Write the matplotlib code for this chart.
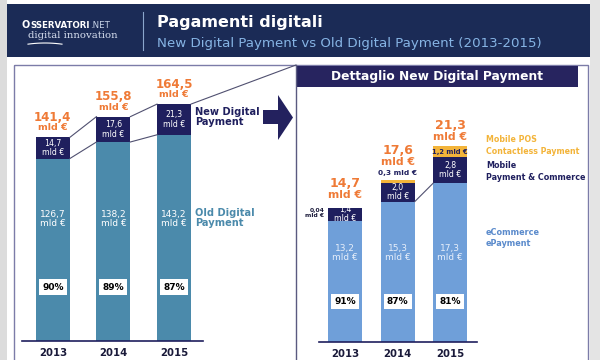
import matplotlib
matplotlib.use("Agg")
import numpy as np
import matplotlib.pyplot as plt
from matplotlib.patches import Rectangle, ConnectionPatch

# data
years = ["2013", "2014", "2015"]
old_digital = [126.7, 138.2, 143.2]
new_digital = [14.7, 17.6, 21.3]
totals = [141.4, 155.8, 164.5]
old_share = ["90%", "89%", "87%"]

ecommerce = [13.2, 15.3, 17.3]
mobile_pay = [1.4, 2.0, 2.8]
mobile_pos = [0.04, 0.3, 1.2]
new_totals = [14.7, 17.6, 21.3]
ecom_share = ["91%", "87%", "81%"]

NAVY = "#1f1f5e"
HEAD = "#1b2b56"
TEAL = "#4b8aab"
LBLUE = "#6f9fd9"
YELLOW = "#f3b43a"
ORANGE = "#ef7a36"
SUB = "#86b4e4"

plt.rcParams["font.family"] = "DejaVu Sans"

fig = plt.figure(figsize=(6, 3.6), dpi=100)
W, H = 600, 360


def fmt(v):
    return f"{v:.1f}".replace(".", ",")


# background axes in pixel coords for the frame
bg = fig.add_axes([0, 0, 1, 1])
bg.set_xlim(0, W)
bg.set_ylim(H, 0)
bg.axis("off")
bg.add_patch(Rectangle((0, 0), 7, H, color="#dcdcdc", lw=0))
bg.add_patch(Rectangle((590, 0), 10, H, color="#e4e4e4", lw=0))
bg.add_patch(Rectangle((7, 4), 583, 53, color=HEAD, lw=0))

# logo
bg.text(22, 25, "O", color="white", fontsize=7, fontweight="bold", va="center")
bg.text(30, 25, "SSERVATORI", color="white", fontsize=6.2, fontweight="bold",
        va="center")
bg.text(90, 25, ".NET", color="#c8d4e8", fontsize=6.2, va="center")
bg.text(28, 35, "digital innovation", color="#d8e0f0", fontsize=7.3,
        family="DejaVu Serif", va="center")
sx = np.linspace(28, 62, 12)
bg.plot(sx, 43 + 0.004 * (sx - 45) ** 2, color="white", lw=0.8)
bg.plot([143, 143], [12, 50], color="#8aa6cc", lw=0.8)
bg.text(157, 22, "Pagamenti digitali", color="white", fontsize=11.5,
        fontweight="bold", va="center")
bg.text(157, 43, "New Digital Payment vs Old Digital Payment (2013-2015)",
        color=SUB, fontsize=9.6, va="center")

# panels
bg.add_patch(Rectangle((14, 65), 574, 320, fill=False, ec="#7c7ca8", lw=1))
bg.plot([296, 296], [65, 360], color="#5a5a80", lw=1)
bg.add_patch(Rectangle((296, 66), 282, 21, color="#27245f", lw=0))
bg.text(437, 76.5, "Dettaglio New Digital Payment", color="white",
        fontsize=8.8, fontweight="bold", ha="center", va="center")

# arrow
bg.fill([263, 278, 278, 293, 278, 278, 263],
        [110, 110, 95, 117.5, 140, 124, 124], color="#23215e", lw=0)


def bar_axes(x0, x1, ybase, ytop):
    a = fig.add_axes([x0 / W, (H - ybase) / H, (x1 - x0) / W, (ybase - ytop) / H])
    a.patch.set_alpha(0)
    for s in ["top", "right", "left"]:
        a.spines[s].set_visible(False)
    a.spines["bottom"].set_color(NAVY)
    a.spines["bottom"].set_linewidth(1.2)
    a.set_yticks([])
    a.tick_params(axis="x", length=0, pad=5)
    return a


x = np.arange(3)

# left chart
ax1 = bar_axes(22, 203, 341, 341 - 200 * 1.44)
ax1.set_xlim(-0.51, 2.48)
ax1.set_ylim(0, 200)
w1 = 0.56
ax1.bar(x, old_digital, w1, color=TEAL)
ax1.bar(x, new_digital, w1, bottom=old_digital, color=NAVY)
ax1.set_xticks(x, years, fontsize=7.3, fontweight="bold", color="#1a1a3a")
top1 = [o + n for o, n in zip(old_digital, new_digital)]
for i in range(2):
    ax1.plot([i + w1 / 2, i + 1 - w1 / 2], [top1[i], top1[i + 1]], color="#505070", lw=0.8)
    ax1.plot([i + w1 / 2, i + 1 - w1 / 2], [old_digital[i], old_digital[i + 1]],
             color="#505070", lw=0.8)
for i in x:
    ax1.annotate(fmt(totals[i]), (i, top1[i]), xytext=(0, 20),
                 textcoords="offset pixels", ha="center", va="center",
                 color=ORANGE, fontsize=8.5, fontweight="bold")
    ax1.annotate("mld €", (i, top1[i]), xytext=(0, 9.5), textcoords="offset pixels",
                 ha="center", va="center", color=ORANGE, fontsize=6.8, fontweight="bold")
    ax1.text(i, old_digital[i] + new_digital[i] / 2, fmt(new_digital[i]) + "\nmld €",
             ha="center", va="center", color="white", fontsize=5.6, linespacing=1.1)
    ax1.text(i, 84.7, fmt(old_digital[i]) + "\nmld €",
             ha="center", va="center", color="white", fontsize=6.5, linespacing=1.1)
    ax1.text(i, 37.5, old_share[i], ha="center", va="center", color="black",
             fontsize=6.5, fontweight="bold",
             bbox=dict(boxstyle="square,pad=0.35", fc="white", ec="none"))

fig.add_artist(ConnectionPatch((2 + w1 / 2, top1[2]), (296, 65), "data", "data",
                               axesA=ax1, axesB=bg, color="#505070", lw=0.8))
fig.add_artist(ConnectionPatch((2 + w1 / 2, old_digital[2]), (297, 372), "data", "data",
                               axesA=ax1, axesB=bg, color="#303050", lw=0.8))
bg.text(195, 117, "New Digital\nPayment", color=NAVY, fontsize=7.1,
        fontweight="bold", va="center", linespacing=1.0)
bg.text(195, 218, "Old Digital\nPayment", color=TEAL, fontsize=7.1,
        fontweight="bold", va="center", linespacing=1.0)

# right chart
ax2 = bar_axes(319, 477, 342, 342 - 30 * 9.18)
ax2.set_xlim(-0.5, 2.51)
ax2.set_ylim(0, 30)
w2 = 0.65
ax2.bar(x, ecommerce, w2, color=LBLUE)
bot2 = np.array(ecommerce)
b_mob = ax2.bar(x, mobile_pay, w2, bottom=bot2, color=NAVY)
bot3 = bot2 + np.array(mobile_pay)
ax2.bar(x, mobile_pos, w2, bottom=bot3, color=YELLOW)
top2 = bot3 + np.array(mobile_pos)
ax2.set_xticks(x, years, fontsize=7.3, fontweight="bold", color="#1a1a3a")
ax2.plot([1 + w2 / 2, 2 - w2 / 2], [ecommerce[1], ecommerce[2]], color="#505070", lw=0.8)

tot_off = [24, 30, 21]
for i in x:
    ax2.annotate(fmt(new_totals[i]), (i, top2[i]),
                 xytext=(0, tot_off[i]), textcoords="offset pixels", ha="center",
                 va="center", color=ORANGE, fontsize=9, fontweight="bold")
    ax2.annotate("mld €", (i, top2[i]), xytext=(0, tot_off[i] - 11.5),
                 textcoords="offset pixels", ha="center", va="center",
                 color=ORANGE, fontsize=7.8, fontweight="bold")
    t = ax2.text(i, ecommerce[i] + mobile_pay[i] / 2, fmt(mobile_pay[i]) + "\nmld €",
                 ha="center", va="center", color="white", fontsize=5.6, linespacing=1.0)
    t.set_clip_path(b_mob[i])
    ax2.text(i, 9.7, fmt(ecommerce[i]) + "\nmld €",
             ha="center", va="center", color="#e6eefa", fontsize=6.5, linespacing=1.1)
    ax2.text(i, 4.4, ecom_share[i], ha="center", va="center", color="black",
             fontsize=6.5, fontweight="bold",
             bbox=dict(boxstyle="square,pad=0.35", fc="white", ec="none"))

ax2.annotate("0,04\nmld €", (0 - w2 / 2, top2[0]), xytext=(-4, -5),
             textcoords="offset pixels", ha="right", va="center", color="#1a1a3a",
             fontsize=4.3, fontweight="bold", linespacing=1.0)
ax2.annotate(fmt(mobile_pos[1]) + " mld €", (1, top2[1]),
             xytext=(0, 7), textcoords="offset pixels", ha="center", va="center",
             color=NAVY, fontsize=5.3, fontweight="bold")
ax2.text(2, bot3[2] + mobile_pos[2] / 2, fmt(mobile_pos[2]) + " mld €",
         ha="center", va="center", color=NAVY, fontsize=4.9, fontweight="bold")

bg.text(486, 145.5, "Mobile POS\nContactless Payment", color=YELLOW, fontsize=5.7,
        fontweight="bold", va="center", linespacing=1.3)
bg.text(486, 171.5, "Mobile\nPayment & Commerce", color=NAVY, fontsize=5.8,
        fontweight="bold", va="center", linespacing=1.3)
bg.text(486, 238, "eCommerce\nePayment", color="#5b8bcc", fontsize=5.9,
        fontweight="bold", va="center", linespacing=1.3)

fig.savefig("out.png", dpi=100, facecolor="white")
